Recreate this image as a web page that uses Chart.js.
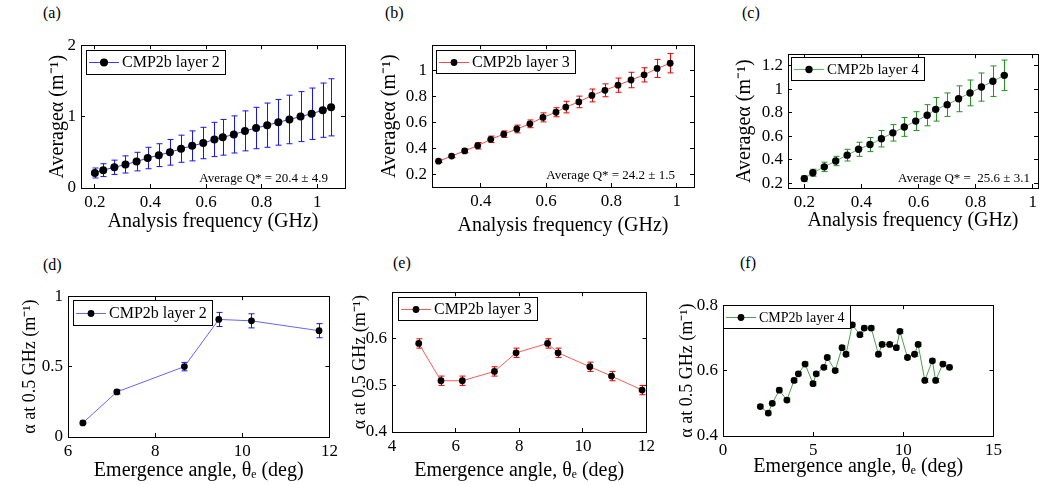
<!DOCTYPE html>
<html>
<head>
<meta charset="utf-8">
<script src="https://cdn.jsdelivr.net/npm/chart.js@4.4.1/dist/chart.umd.min.js"></script>
<style>
  body { margin: 0; background: #fff; }
  #wrap { position: relative; width: 1043px; height: 485px; overflow: hidden; font-family: 'Liberation Serif', serif; }
  .lbl { position: absolute; font-size: 16px; line-height: 18px; color: #000; }
  canvas { position: absolute; }
</style>
</head>
<body>
<div id="wrap">
  <div class="lbl" style="left:43px;top:4px">(a)</div>
  <div class="lbl" style="left:385px;top:4px">(b)</div>
  <div class="lbl" style="left:742px;top:4px">(c)</div>
  <div class="lbl" style="left:43px;top:256px">(d)</div>
  <div class="lbl" style="left:393px;top:254px">(e)</div>
  <div class="lbl" style="left:740px;top:254px">(f)</div>
</div>
<script>
// (a) CMP2b layer 2, average alpha vs frequency
const freqA = [0.2, 0.23, 0.27, 0.31, 0.35, 0.39, 0.43, 0.47, 0.51, 0.55, 0.59, 0.63, 0.66, 0.70, 0.74, 0.78, 0.82, 0.86, 0.90, 0.94, 0.98, 1.02, 1.05];
const alphaA = [0.21, 0.25, 0.29, 0.33, 0.37, 0.42, 0.46, 0.50, 0.55, 0.59, 0.63, 0.68, 0.71, 0.75, 0.80, 0.84, 0.88, 0.92, 0.96, 1.00, 1.04, 1.09, 1.13];
const errA = [0.07, 0.09, 0.10, 0.12, 0.13, 0.15, 0.16, 0.18, 0.19, 0.21, 0.22, 0.24, 0.25, 0.26, 0.28, 0.29, 0.31, 0.32, 0.34, 0.35, 0.36, 0.38, 0.40];

// (b) layer 3
const freqB = [0.27, 0.31, 0.35, 0.39, 0.43, 0.47, 0.51, 0.55, 0.59, 0.63, 0.66, 0.70, 0.74, 0.78, 0.82, 0.86, 0.90, 0.94, 0.98];
const alphaB = [0.30, 0.34, 0.38, 0.42, 0.47, 0.51, 0.55, 0.59, 0.64, 0.68, 0.72, 0.76, 0.81, 0.85, 0.89, 0.93, 0.97, 1.02, 1.06];
const errB = [0.01, 0.012, 0.015, 0.025, 0.025, 0.025, 0.03, 0.03, 0.035, 0.035, 0.045, 0.045, 0.05, 0.05, 0.055, 0.06, 0.055, 0.07, 0.075];

// (c) layer 4
const freqC = [0.2, 0.23, 0.27, 0.31, 0.35, 0.39, 0.43, 0.47, 0.51, 0.55, 0.59, 0.63, 0.66, 0.70, 0.74, 0.78, 0.82, 0.86, 0.90];
const alphaC = [0.24, 0.29, 0.34, 0.39, 0.44, 0.49, 0.53, 0.58, 0.63, 0.68, 0.73, 0.78, 0.83, 0.87, 0.92, 0.97, 1.02, 1.07, 1.12];
const errC = [0.025, 0.03, 0.04, 0.04, 0.05, 0.06, 0.06, 0.07, 0.07, 0.08, 0.08, 0.09, 0.10, 0.10, 0.11, 0.11, 0.12, 0.13, 0.13];

// (d)-(f) alpha at 0.5 GHz vs emergence angle
const angleD = [6.34, 7.12, 8.67, 9.46, 10.21, 11.76];
const alphaD = [0.10, 0.32, 0.50, 0.835, 0.825, 0.755];
const errD = [0.006, 0.015, 0.03, 0.05, 0.05, 0.05];

const angleE = [4.84, 5.54, 6.21, 7.22, 7.90, 8.89, 9.22, 10.22, 10.90, 11.86];
const alphaE = [0.59, 0.51, 0.51, 0.53, 0.57, 0.59, 0.57, 0.54, 0.52, 0.49];
const errE = [0.01, 0.01, 0.01, 0.01, 0.01, 0.01, 0.01, 0.01, 0.01, 0.01];

const angleF = [2.07, 2.51, 2.73, 3.12, 3.54, 3.94, 4.18, 4.55, 4.99, 5.17, 5.59, 5.78, 6.22, 6.60, 6.82, 7.17, 7.59, 7.83, 8.22, 8.62, 8.82, 9.24, 9.61, 9.81, 10.23, 10.62, 10.82, 11.19, 11.61, 11.79, 12.19, 12.56];
const alphaF = [0.49, 0.47, 0.50, 0.54, 0.51, 0.57, 0.59, 0.62, 0.56, 0.59, 0.61, 0.64, 0.60, 0.67, 0.65, 0.74, 0.71, 0.73, 0.73, 0.65, 0.68, 0.68, 0.67, 0.72, 0.64, 0.65, 0.68, 0.57, 0.63, 0.57, 0.62, 0.61];
const errF = [0.006, 0.006, 0.006, 0.006, 0.006, 0.006, 0.006, 0.006, 0.006, 0.006, 0.006, 0.006, 0.006, 0.006, 0.006, 0.006, 0.006, 0.006, 0.006, 0.006, 0.006, 0.006, 0.006, 0.006, 0.006, 0.006, 0.006, 0.006, 0.006, 0.006, 0.006, 0.006];

const xTicksA = [0.2, 0.4, 0.6, 0.8, 1];
const xTicksB = [0.4, 0.6, 0.8, 1];
const yTicksA = [0, 1, 2];
const yTicksB = [0.2, 0.4, 0.6, 0.8, 1];
const yTicksC = [0.2, 0.4, 0.6, 0.8, 1, 1.2];
const xTicksD = [6, 8, 10, 12];
const xTicksE = [4, 6, 8, 10, 12];
const xTicksF = [0, 5, 10, 15];
const yTicksD = [0, 0.5, 1];
const yTicksE = [0.4, 0.5, 0.6];
const yTicksF = [0.4, 0.6, 0.8];

const freqTitle = 'Analysis frequency (GHz)';
const angleTitle = 'Emergence angle, \u03b8\u2091 (deg)';
const avgTitle = 'Average\u03b1 (m\u207b\u00b9)';
const at05Title = '\u03b1 at 0.5 GHz (m\u207b\u00b9)';

Chart.defaults.font.family = "'Liberation Serif', serif";
Chart.defaults.font.size = 17;
Chart.defaults.color = '#000';

// error bars under the data; legend and note on top
const matlabLook = {
  id: 'matlabLook',
  beforeDatasetsDraw(chart, args, o) {
    const ctx = chart.ctx, xs = chart.scales.x, ys = chart.scales.y;
    const d = chart.data.datasets[0].data;
    ctx.save();
    ctx.strokeStyle = o.errColor;
    ctx.lineWidth = 1;
    ctx.beginPath();
    d.forEach((p, i) => {
      const x = Math.round(xs.getPixelForValue(p.x)) + 0.5;
      const y1 = ys.getPixelForValue(p.y + o.err[i]);
      const y2 = ys.getPixelForValue(p.y - o.err[i]);
      ctx.moveTo(x, y1); ctx.lineTo(x, y2);
      ctx.moveTo(x - 3, y1); ctx.lineTo(x + 3, y1);
      ctx.moveTo(x - 3, y2); ctx.lineTo(x + 3, y2);
    });
    ctx.stroke();
    ctx.restore();
  },
  afterDraw(chart, args, o) {
    const ctx = chart.ctx;
    const L = Math.round(chart.scales.x.left), T = Math.round(chart.scales.y.top);
    ctx.save();
    ctx.font = o.legendSize + "px 'Liberation Serif', serif";
    const tw = ctx.measureText(o.legend).width;
    const x0 = L + o.legendAt[0], y0 = T + o.legendAt[1];
    const w = Math.round(36 + tw + 5), h = o.legendH;
    ctx.fillStyle = '#fff';
    ctx.fillRect(x0, y0, w, h);
    ctx.fillStyle = '#000';
    ctx.fillRect(x0, y0, w, 1);
    ctx.fillRect(x0, y0 + h, w + 1, 1);
    ctx.fillRect(x0, y0, 1, h);
    ctx.fillRect(x0 + w, y0, 1, h);
    const my = Math.round(y0 + h / 2);
    ctx.fillStyle = o.lineColor;
    ctx.fillRect(x0 + 3, my, 30, 1);
    ctx.fillStyle = '#000';
    ctx.beginPath(); ctx.arc(x0 + 18, my + 0.5, o.markR, 0, Math.PI * 2); ctx.fill();
    ctx.textBaseline = 'middle';
    ctx.fillText(o.legend, x0 + 36, my + 1);

    if (o.note) {
      const R = Math.round(chart.scales.x.right), B = Math.round(chart.scales.y.bottom);
      ctx.font = "13px 'Liberation Serif', serif";
      ctx.textAlign = 'right';
      ctx.fillText(o.note, R - o.noteAt[0], B - o.noteAt[1]);
    }
    ctx.restore();
  }
};

function fmt(v) { return String(+v.toFixed(2)); }

// axis line + short ticks pointing into the plot (negative tick length)
const inGrid = { display: true, drawOnChartArea: false, drawTicks: true, tickLength: -4, color: '#000', lineWidth: 1 };
const edge = { display: true, color: '#000', width: 1 };

function makePanel(p) {
  const padTop = 12, padRight = 14;
  const cv = document.createElement('canvas');
  const cw = p.yW + (p.box[2] - p.box[0]) + padRight;
  const ch = padTop + (p.box[3] - p.box[1]) + p.xH;
  cv.width = cw; cv.height = ch;
  cv.style.left = (p.box[0] - p.yW) + 'px';
  cv.style.top = (p.box[1] - padTop) + 'px';
  document.getElementById('wrap').appendChild(cv);

  const setX = s => { s.ticks = p.xTicks.map(v => ({ value: v })); };
  const setY = s => { s.ticks = p.yTicks.map(v => ({ value: v })); };

  new Chart(cv, {
    type: 'line',
    data: {
      datasets: [{
        data: p.xs.map((x, i) => ({ x: x, y: p.ys[i] })),
        borderColor: p.lineColor,
        borderWidth: 1,
        pointRadius: p.markR,
        pointBackgroundColor: '#000',
        pointBorderColor: '#000',
        pointBorderWidth: 0,
        tension: 0
      }]
    },
    options: {
      responsive: false,
      animation: false,
      events: [],
      layout: { autoPadding: false, padding: { left: 0, top: padTop, right: padRight, bottom: 0 } },
      plugins: {
        legend: { display: false },
        tooltip: { enabled: false },
        matlabLook: {
          err: p.err, errColor: p.errColor, lineColor: p.lineColor,
          legend: p.legend, legendAt: p.legendAt, legendH: p.legendH, legendSize: p.legendSize,
          markR: p.markR, note: p.note, noteAt: p.noteAt
        }
      },
      scales: {
        x: {
          type: 'linear', position: 'bottom', min: p.xRange[0], max: p.xRange[1],
          grid: inGrid, border: edge,
          afterBuildTicks: setX,
          afterFit: s => { s.height = p.xH; },
          ticks: { callback: fmt, padding: 8, maxRotation: 0, autoSkip: false },
          title: { display: true, text: p.xTitle, font: { size: 20 }, padding: 0 }
        },
        y: {
          type: 'linear', position: 'left', min: p.yRange[0], max: p.yRange[1],
          grid: inGrid, border: edge,
          afterBuildTicks: setY,
          afterFit: s => { s.width = p.yW; },
          ticks: { callback: fmt, padding: 9, autoSkip: false },
          title: { display: true, text: p.yTitle, font: { size: p.yTitleSize }, padding: 0 }
        },
        xTop: {
          type: 'linear', position: 'top', min: p.xRange[0], max: p.xRange[1],
          grid: inGrid, border: edge,
          afterBuildTicks: setX,
          afterFit: s => { s.height = 0; },
          ticks: { display: false }
        },
        yRight: {
          type: 'linear', position: 'right', min: p.yRange[0], max: p.yRange[1],
          grid: inGrid, border: edge,
          afterBuildTicks: setY,
          afterFit: s => { s.width = 0; },
          ticks: { display: false }
        }
      }
    },
    plugins: [matlabLook]
  });
}

makePanel({ box: [81, 38, 345, 188], yW: 35, xH: 46, xs: freqA, ys: alphaA, err: errA,
  lineColor: '#3b3bff', errColor: '#1414ff', markR: 4, xRange: [0.15, 1.1], yRange: [0, 2],
  xTicks: xTicksA, yTicks: yTicksA, xTitle: freqTitle, yTitle: avgTitle, yTitleSize: 20,
  legend: 'CMP2b layer 2', legendAt: [5, 5], legendH: 24, legendSize: 16,
  note: 'Average Q* = 20.4 \u00b1 4.9', noteAt: [17, 9] });

makePanel({ box: [432, 38, 694, 187], yW: 54, xH: 51, xs: freqB, ys: alphaB, err: errB,
  lineColor: '#ff4a4a', errColor: '#f00000', markR: 3.4, xRange: [0.25, 1.053], yRange: [0.1, 1.2],
  xTicks: xTicksB, yTicks: yTicksB, xTitle: freqTitle, yTitle: avgTitle, yTitleSize: 20,
  legend: 'CMP2b layer 3', legendAt: [4, 5], legendH: 23, legendSize: 16,
  note: 'Average Q* = 24.2 \u00b1 1.5', noteAt: [19, 11] });

makePanel({ box: [788, 47, 1038, 188], yW: 55, xH: 45, xs: freqC, ys: alphaC, err: errC,
  lineColor: '#5cb85c', errColor: '#1f941f', markR: 3.7, xRange: [0.143, 1.018], yRange: [0.16, 1.3],
  xTicks: xTicksA, yTicks: yTicksC, xTitle: freqTitle, yTitle: avgTitle, yTitleSize: 20,
  legend: 'CMP2b layer 4', legendAt: [3, 3], legendH: 23, legendSize: 15,
  note: 'Average Q* =  25.6 \u00b1 3.1', noteAt: [8, 9] });

makePanel({ box: [68, 289, 332, 437], yW: 49, xH: 46, xs: angleD, ys: alphaD, err: errD,
  lineColor: '#6464ff', errColor: '#1414ff', markR: 3.4, xRange: [6, 12], yRange: [0, 1],
  xTicks: xTicksD, yTicks: yTicksD, xTitle: angleTitle, yTitle: at05Title, yTitleSize: 18,
  legend: 'CMP2b layer 2', legendAt: [5, 4], legendH: 25, legendSize: 16 });

makePanel({ box: [392, 285, 649, 432], yW: 43, xH: 51, xs: angleE, ys: alphaE, err: errE,
  lineColor: '#ff5a5a', errColor: '#e80000', markR: 3.4, xRange: [4, 12], yRange: [0.4, 0.7],
  xTicks: xTicksE, yTicks: yTicksE, xTitle: angleTitle, yTitle: at05Title, yTitleSize: 18,
  legend: 'CMP2b layer 3', legendAt: [6, 5], legendH: 23, legendSize: 16 });

makePanel({ box: [723, 298, 996, 436], yW: 47, xH: 43, xs: angleF, ys: alphaF, err: errF,
  lineColor: '#4f9e4f', errColor: '#1f941f', markR: 3.4, xRange: [0, 15], yRange: [0.4, 0.8],
  xTicks: xTicksF, yTicks: yTicksF, xTitle: angleTitle, yTitle: at05Title, yTitleSize: 18,
  legend: 'CMP2b layer 4', legendAt: [0, 0], legendH: 23, legendSize: 14 });
</script>
</body>
</html>
